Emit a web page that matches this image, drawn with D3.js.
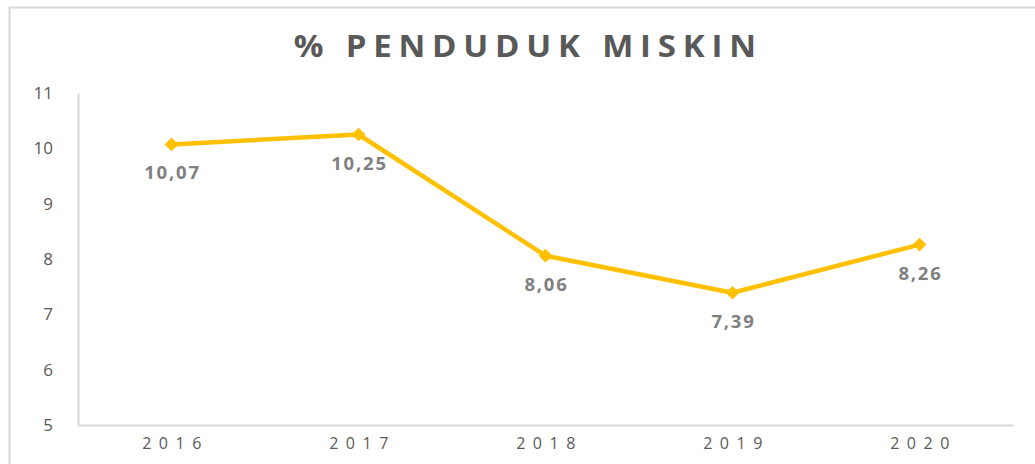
<!DOCTYPE html>
<html>
<head>
<meta charset="utf-8">
<script src="https://cdn.jsdelivr.net/npm/d3@7"></script>
<style>
  body { margin: 0; background: #fff; }
  svg { display: block; font-family: "Open Sans", sans-serif; }
</style>
</head>
<body>
<div id="chart"></div>
<script>
const title = '% PENDUDUK MISKIN';
const years = ['2016', '2017', '2018', '2019', '2020'];
const values = [10.07, 10.25, 8.06, 7.39, 8.26];
const yTicks = [5, 6, 7, 8, 9, 10, 11];

const W = 1035, H = 464;
const margin = {top: 93, right: 22, bottom: 39, left: 78};
const width = W - margin.left - margin.right;
const height = H - margin.top - margin.bottom;

const svg = d3.select('#chart')
  .append('svg')
  .attr('width', W)
  .attr('height', H);

// chart frame
svg.append('rect')
  .attr('x', 9.5)
  .attr('y', 7.5)
  .attr('width', W)
  .attr('height', H)
  .attr('fill', 'none')
  .attr('stroke', '#d9d9d9')
  .attr('stroke-width', 2);

// title, widened a little like the original
svg.append('text')
  .attr('transform', 'translate(525, 57) scale(1.1, 1)')
  .attr('dx', 3)
  .attr('text-anchor', 'middle')
  .attr('fill', '#595959')
  .attr('font-size', 30)
  .attr('font-weight', 'bold')
  .attr('letter-spacing', 6.2)
  .text(title);

const g = svg.append('g')
  .attr('transform', `translate(${margin.left}, ${margin.top})`);

const x = d3.scaleBand()
  .domain(years)
  .range([0, width]);
const y = d3.scaleLinear()
  .domain([5, 11])
  .range([height, 0]);

const xAxis = g => g
  .attr('transform', `translate(0, ${height})`)
  .call(d3.axisBottom(x).tickSize(0).tickPadding(13))
  .call(g => g.select('.domain').attr('stroke', '#d9d9d9').attr('stroke-width', 2))
  .call(g => g.selectAll('text')
    .attr('fill', '#595959')
    .attr('font-size', 16)
    .attr('letter-spacing', 7.5)
    .attr('dx', 4)
    .attr('font-family', '"Open Sans", sans-serif'));
const yAxis = g => g
  .call(d3.axisLeft(y).tickValues(yTicks).tickFormat(d3.format('d')).tickSize(0).tickPadding(25))
  .call(g => g.select('.domain').attr('stroke', '#d9d9d9').attr('stroke-width', 2))
  .call(g => g.selectAll('text')
    .attr('fill', '#595959')
    .attr('font-size', 17)
    .attr('font-family', '"Open Sans", sans-serif'));

g.append('g').call(xAxis);
g.append('g').call(yAxis);

const data = years.map((yr, i) => ({year: yr, value: values[i]}));
const cx = d => x(d.year) + x.bandwidth() / 2;

const line = d3.line()
  .x(cx)
  .y(d => y(d.value));

g.append('path')
  .datum(data)
  .attr('d', line)
  .attr('fill', 'none')
  .attr('stroke', '#ffc000')
  .attr('stroke-width', 4.5)
  .attr('stroke-linejoin', 'round');

g.selectAll('.marker')
  .data(data)
  .join('path')
  .attr('class', 'marker')
  .attr('d', d3.symbol(d3.symbolDiamond2, 120))
  .attr('transform', d => `translate(${cx(d)}, ${y(d.value)})`)
  .attr('fill', '#ffc000');

const fmt = v => d3.format('.2f')(v).replace('.', ',');
g.selectAll('.label')
  .data(data)
  .join('text')
  .attr('class', 'label')
  .attr('x', cx)
  .attr('y', d => y(d.value) + 35)
  .attr('dx', 1)
  .attr('text-anchor', 'middle')
  .attr('fill', '#7f7f7f')
  .attr('font-size', 18.5)
  .attr('font-weight', 'bold')
  .attr('letter-spacing', 1.8)
  .text(d => fmt(d.value));
</script>
</body>
</html>
